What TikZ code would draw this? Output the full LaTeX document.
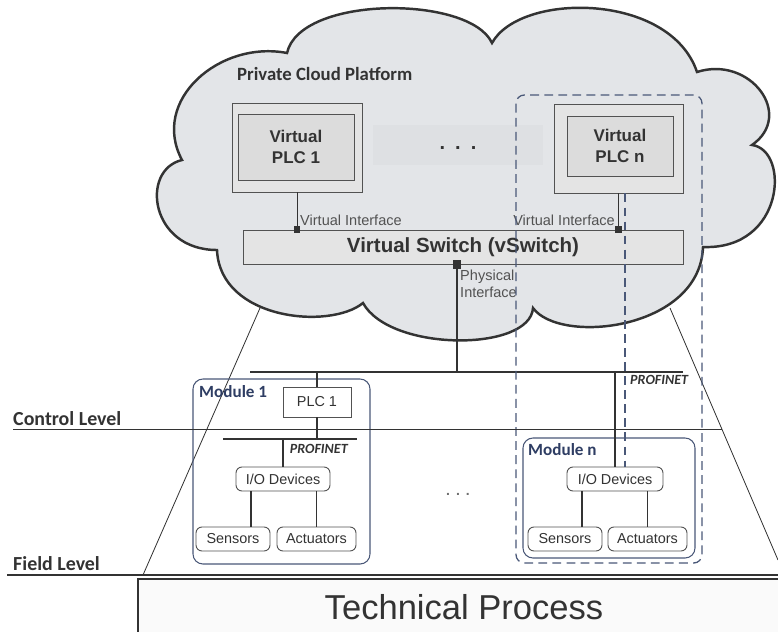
\documentclass[tikz,border=0pt]{standalone}
\usepackage{fontspec}
\setmainfont{Liberation Sans}
\newfontfamily\calibri{Carlito}
\usepackage{tikz}

\definecolor{cloudgray}{HTML}{E3E5E8}
\definecolor{edgegray}{HTML}{333333}
\definecolor{boxgray}{HTML}{E4E4E4}
\definecolor{coregray}{HTML}{DCDCDC}
\definecolor{dotbg}{HTML}{DEE0E3}
\definecolor{navy}{HTML}{4A5878}
\definecolor{navytext}{HTML}{2E3D63}
\definecolor{procfill}{HTML}{FAFAFA}

\begin{document}
\begin{tikzpicture}[x=0.03cm, y=-0.03cm,
  vbox/.style={draw=edgegray!85, fill=boxgray, line width=0.8pt, inner sep=0pt},
  vcore/.style={vbox, fill=coregray, align=center, text=edgegray,
    font=\bfseries\fontsize{14.5}{18}\selectfont},
  iface/.style={fill=edgegray, inner sep=0pt, minimum size=0.2cm},
  ifacetext/.style={font=\fontsize{12.4}{14.5}\selectfont, text=edgegray!85, inner sep=0pt},
  bus/.style={line width=2pt, edgegray},
  wire/.style={line width=1.5pt, edgegray},
  thinwire/.style={line width=0.7pt, edgegray},
  module/.style={draw=navy, rounded corners=0.3cm, line width=0.9pt, inner sep=0pt},
  modlbl/.style={font=\calibri\bfseries\fontsize{14.6}{17}\selectfont, text=navytext, inner sep=0pt},
  lvl/.style={font=\calibri\bfseries\fontsize{17}{20}\selectfont, text=edgegray, inner sep=0pt},
  pn/.style={font=\calibri\bfseries\itshape\fontsize{12}{14}\selectfont, text=edgegray, inner sep=0pt},
  plcbox/.style={draw=edgegray!85, fill=white, line width=0.8pt, inner sep=0pt,
    font=\fontsize{12.3}{14}\selectfont, text=edgegray},
  dev/.style={plcbox, rounded corners=0.18cm, minimum height=0.72cm},
  dashbox/.style={draw=navy, line width=1.1pt, dash pattern=on 7.5pt off 4.5pt}
]
\useasboundingbox (0,0) rectangle (778,631);

% private cloud
\draw[line width=2.1pt, edgegray, fill=cloudgray]
  (287,53) .. controls (300,-5) and (470,-5) .. (492,43)
  .. controls (520,-8) and (670,-8) .. (697,72)
  .. controls (750,55) and (795,115) .. (752,145)
  .. controls (790,150) and (785,250) .. (703,247)
  .. controls (700,330) and (560,345) .. (533,308)
  .. controls (530,352) and (390,352) .. (363,303)
  .. controls (330,330) and (220,320) .. (217,250)
  .. controls (150,250) and (140,170) .. (182,160)
  .. controls (150,100) and (220,40) .. (287,53) -- cycle;
\node[font=\calibri\bfseries\fontsize{16}{19}\selectfont, text=edgegray, anchor=base west, inner sep=0pt]
  (cloudlbl) at (237,80) {Private Cloud Platform};

% zoom lines from the cloud down to the field
\draw[line width=0.7pt, edgegray] (260,308) -- (143,575);
\draw[line width=0.7pt, edgegray] (670,308) -- (778,560);

% virtual PLCs
\node[fill=dotbg, inner sep=0pt, minimum width=5.1cm, minimum height=1.2cm] (dotsbg) at (458,145) {};
\node[font=\bfseries\fontsize{17}{20}\selectfont, text=edgegray] (dotsup) at (458,148)
  {.\hspace{0.3cm}.\hspace{0.3cm}.};
\node[vbox, minimum width=3.9cm, minimum height=2.67cm] (vplc1) at (297,147.5) {};
\node[vcore, minimum width=3.48cm, minimum height=1.98cm] (vplc1in) at (296,147) {Virtual\\PLC 1};
\node[vbox, minimum width=3.87cm, minimum height=2.67cm] (vplcn) at (618.5,148.5) {};
\node[vcore, minimum width=3.18cm, minimum height=1.8cm] (vplcnin) at (620,146) {Virtual\\PLC n};

% virtual switch and its interfaces
\node[vbox, fill=boxgray, minimum width=13.2cm, minimum height=1.02cm, text=edgegray,
  font=\bfseries\fontsize{17.5}{20}\selectfont] (vswitch) at (463,247) {Virtual Switch (vSwitch)};
\draw[thinwire] (vplc1.south) -- (vplc1.south |- vswitch.north);
\draw[thinwire] (vplcn.south) -- (vplcn.south |- vswitch.north);
\node[iface] (vif1) at (vplc1.south |- vswitch.north) {};
\node[iface] (vifn) at (vplcn.south |- vswitch.north) {};
\coordinate (pifx) at (457,0);
\node[iface, minimum size=0.25cm] (pif) at (pifx |- vswitch.south) {};
\node[ifacetext, anchor=base west] (vif1lbl) at (300,225) {Virtual Interface};
\node[ifacetext, anchor=base east] (vifnlbl) at (615,225) {Virtual Interface};
\node[ifacetext, anchor=north west, align=left] (piflbl) at (460,270) {Physical\\Interface};

% PROFINET backbone
\coordinate (busL) at (250,372);
\coordinate (busR) at (683,372);
\draw[bus] (busL) -- (busR);
\draw[wire] (pif.center) -- (pif |- busL);
\node[pn, anchor=base west] (pnlbl) at (630,384) {PROFINET};

% module 1
\node[module, minimum width=5.31cm, minimum height=5.55cm] (mod1) at (281.5,471.5) {};
\node[modlbl, anchor=base west] (mod1lbl) at (199,397) {Module 1};
\node[plcbox, minimum width=2.04cm, minimum height=0.9cm] (plc1) at (317,402) {PLC 1};
\draw[wire] (plc1.north) -- (plc1.north |- busL);
\coordinate (pn1L) at (223,439);
\coordinate (pn1R) at (357,439);
\draw[bus] (pn1L) -- (pn1R);
\draw[wire] (plc1.south) -- (plc1.south |- pn1L);
\node[pn, anchor=base east] (pn1lbl) at (348,453) {PROFINET};
\node[dev, minimum width=2.82cm] (io1) at (283,479) {I/O Devices};
\draw[wire] (io1.north) -- (io1.north |- pn1L);
\node[dev, minimum width=2.22cm] (sens1) at (233,539) {Sensors};
\node[dev, minimum width=2.37cm] (act1) at (316.5,539) {Actuators};
\coordinate (tap1) at (251,0);
\draw[wire] (tap1 |- io1.south) -- (tap1 |- sens1.north);
\draw[wire] (act1.north |- io1.south) -- (act1.north);

\node[font=\bfseries\fontsize{12}{14}\selectfont, text=edgegray!70] (dotsdown) at (458,494)
  {.\hspace{0.18cm}.\hspace{0.18cm}.};

% module n
\node[module, minimum width=5.16cm, minimum height=3.6cm] (modn) at (609,498) {};
\node[modlbl, anchor=base west] (modnlbl) at (528,455) {Module n};
\node[dev, minimum width=2.88cm] (ion) at (615,479) {I/O Devices};
\draw[wire] (ion.north) -- (ion.north |- busL);
\node[dev, minimum width=2.22cm] (sensn) at (565,539) {Sensors};
\node[dev, minimum width=2.37cm] (actn) at (647.5,539) {Actuators};
\coordinate (tapn) at (582,0);
\draw[wire] (tapn |- ion.south) -- (tapn |- sensn.north);
\draw[wire] (actn.north |- ion.south) -- (actn.north);

% virtual PLC n bound to module n
\node[dashbox, rounded corners=0.25cm, inner sep=0pt, minimum width=5.58cm, minimum height=14.04cm]
  (slice) at (609,329) {};
\coordinate (vlink) at (625,0);
\draw[dashbox] (vlink |- vplcn.south) -- (vlink |- ion.north);

% automation levels
\draw[line width=0.8pt, edgegray] (13,429) -- (722,429);
\node[lvl, anchor=base west] (ctrl) at (13,425) {Control Level};
\draw[line width=1.7pt, edgegray] (7,575) -- (778,575);
\node[lvl, anchor=base west] (field) at (13,570) {Field Level};

% technical process
\draw[line width=1pt, edgegray, fill=procfill] (138,579) rectangle (800,660);
\node[font=\fontsize{29.5}{32}\selectfont, text=edgegray] (proc) at (464,607) {Technical Process};

\end{tikzpicture}
\end{document}
